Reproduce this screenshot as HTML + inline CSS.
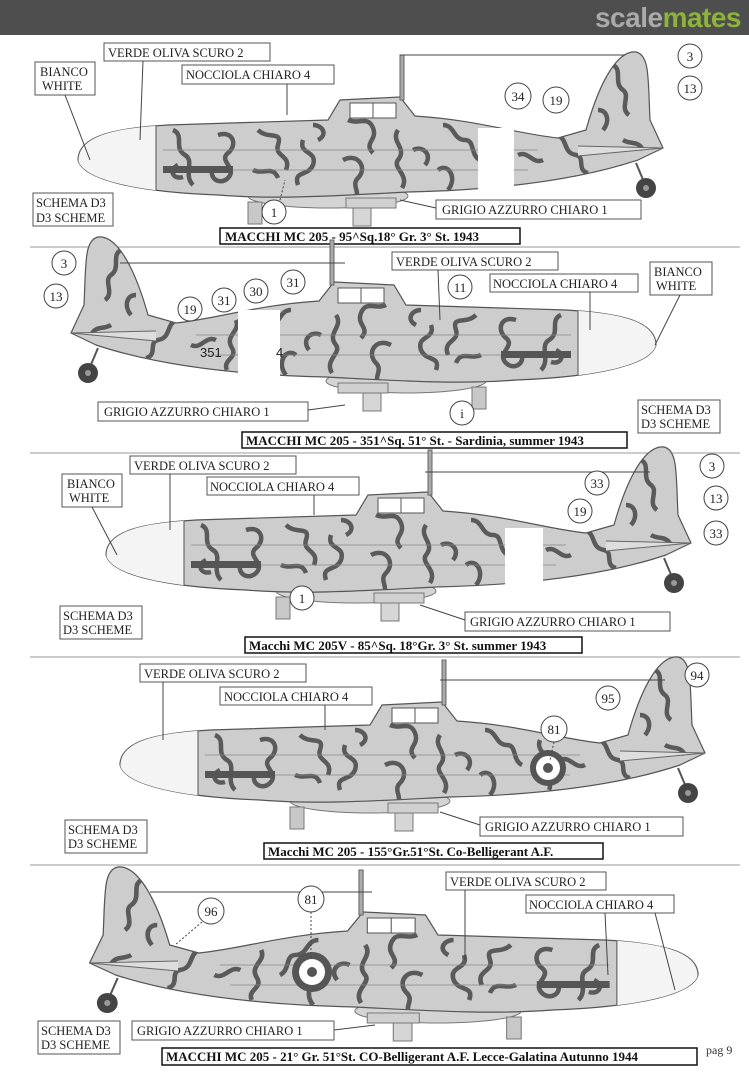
<!DOCTYPE html>
<html><head><meta charset="utf-8"><style>
html,body{margin:0;padding:0;background:#fff}
svg{display:block}
.l{font-family:"Liberation Serif",serif;font-size:12.5px;fill:#222}
.b{fill:#fff;stroke:#555;stroke-width:1}
.c{font-family:"Liberation Serif",serif;font-size:13px;font-weight:bold;fill:#111}
.n{font-family:"Liberation Serif",serif;font-size:13px;fill:#222;text-anchor:middle}
.ln{stroke:#444;stroke-width:1;fill:none}
.dl{stroke:#444;stroke-width:1;fill:none;stroke-dasharray:2 2}
</style></head><body>
<svg width="749" height="1080" viewBox="0 0 749 1080">
<defs>
<path id="fs" d="M0,0 C0,-25 40,-32 90,-35 L250,-40 L262,-60 L322,-63 L337,-44 C400,-40 440,-26 480,-22 L508,-30 C522,-80 540,-110 558,-108 C572,-105 570,-80 572,-40 L585,-12 L560,0 C500,20 420,30 330,32 C270,35 200,40 140,35 C60,32 5,20 0,0 Z"/>
<clipPath id="fc"><use href="#fs"/></clipPath>
<g id="blobs" fill="none" stroke="#5a5a5a" stroke-width="4.5" stroke-linejoin="round">
<path d="M60,-20 c10,-10 20,5 10,15 c-8,8 5,20 -5,28 c-10,5 -18,-10 -8,-18"/>
<path d="M95,-30 c12,5 0,18 12,25 c10,6 -2,20 8,30 M100,5 c-10,5 -5,15 5,12"/>
<path d="M140,-25 c15,-5 20,10 10,18 c-10,8 10,15 0,25 c-8,8 -20,0 -15,-10"/>
<path d="M180,-30 c10,10 25,0 20,15 c-4,12 14,10 8,25 M175,10 c10,5 20,-5 25,8"/>
<path d="M225,-20 c-5,15 15,10 10,25 c-5,12 -20,5 -15,20 M235,-35 c10,0 15,10 5,15"/>
<path d="M270,-40 c10,5 20,-5 25,8 c5,12 -10,15 0,25 M265,0 c15,-8 25,8 15,18 c-8,8 5,15 -5,22"/>
<path d="M320,-30 c-8,12 10,18 0,30 c-6,8 12,15 4,28 M335,-10 c10,-5 20,5 12,15"/>
<path d="M365,-35 c12,0 10,15 22,15 c10,0 5,15 15,20 M360,10 c10,-8 20,8 10,20"/>
<path d="M420,-25 c-5,12 12,15 4,28 c-6,10 10,12 5,22 M440,-5 c10,-5 15,10 25,5"/>
<path d="M480,-25 c10,5 5,18 18,20 c10,2 0,15 12,18"/>
<path d="M535,-95 c10,5 0,18 10,25 c8,6 -4,18 6,25 M520,-50 c10,0 12,12 5,20 M545,-20 c8,5 15,0 20,10"/>
</g>
<g id="pl">
<ellipse cx="250" cy="36" rx="80" ry="12" fill="#d4d4d4" stroke="#777"/>
<rect x="170" y="42" width="14" height="22" fill="#c8c8c8" stroke="#777"/>
<rect x="268" y="38" width="50" height="10" fill="#d0d0d0" stroke="#777"/>
<rect x="275" y="48" width="18" height="18" fill="#d6d6d6" stroke="#777"/>
<use href="#fs" fill="#cdcdcd" stroke="#555" stroke-width="1.2"/>
<g clip-path="url(#fc)"><use href="#blobs"/>
<path d="M0,0 C0,-25 40,-32 78,-35 L78,40 C30,30 0,20 0,0 Z" fill="#f4f4f4" stroke="#555"/></g>
<rect x="272" y="-57" width="46" height="15" fill="#fff" stroke="#555"/>
<line x1="295" y1="-57" x2="295" y2="-42" stroke="#555"/>
<rect x="322" y="-105" width="4" height="45" fill="#aaa" stroke="#666"/>
<path d="M85,10 H450 M85,-10 H460" stroke="#888" stroke-width="0.7"/>
<rect x="85" y="6" width="70" height="7" fill="#555"/>
<path d="M500,-14 L585,-12 L500,-4" fill="#ddd" stroke="#666"/>
<line x1="558" y1="3" x2="566" y2="22" stroke="#555" stroke-width="2"/>
<circle cx="568" cy="28" r="10" fill="#444"/><circle cx="568" cy="28" r="3" fill="#999"/>
</g>
</defs>
<rect width="749" height="35" fill="#4e4e4e"/>
<text x="741" y="27" text-anchor="end" font-family="Liberation Sans,sans-serif" font-weight="bold" font-size="28" letter-spacing="-0.5"><tspan fill="#aaa">scale</tspan><tspan fill="#8db33a">mates</tspan></text>
<g stroke="#999" stroke-width="1"><line x1="30" y1="247" x2="740" y2="247"/><line x1="30" y1="453" x2="740" y2="453"/><line x1="30" y1="657" x2="740" y2="657"/><line x1="30" y1="865" x2="740" y2="865"/></g>

<!-- Plane 1 -->
<use href="#pl" transform="translate(78,160)"/>
<rect x="478" y="128" width="36" height="62" fill="#fff"/>
<line class="ln" x1="400" y1="55" x2="625" y2="55"/>
<rect class="b" x="35" y="62" width="60" height="33"/><text class="l" x="40" y="76">BIANCO</text><text class="l" x="42" y="90">WHITE</text>
<line class="ln" x1="65" y1="95" x2="90" y2="160"/>
<rect class="b" x="104" y="43" width="166" height="18"/><text class="l" x="108" y="57">VERDE OLIVA SCURO 2</text>
<line class="ln" x1="143" y1="61" x2="140" y2="140"/>
<rect class="b" x="182" y="65" width="152" height="19"/><text class="l" x="186" y="79">NOCCIOLA CHIARO 4</text>
<line class="ln" x1="287" y1="84" x2="287" y2="115"/>
<rect class="b" x="33" y="193" width="80" height="33"/><text class="l" x="36" y="207">SCHEMA D3</text><text class="l" x="36" y="222">D3 SCHEME</text>
<circle cx="274" cy="212" r="12" fill="#fff" stroke="#444"/><text class="n" x="274" y="217">1</text><line class="dl" x1="280" y1="200" x2="285" y2="180"/>
<rect class="b" x="436" y="200" width="205" height="19"/><text class="l" x="442" y="214">GRIGIO AZZURRO CHIARO 1</text><line class="ln" x1="436" y1="208" x2="400" y2="200"/>
<rect x="220" y="228" width="300" height="16" fill="#fff" stroke="#111" stroke-width="1.5"/><text class="c" x="225" y="241">MACCHI MC 205 - 95^Sq.18° Gr. 3° St. 1943</text>
<circle cx="690" cy="56" r="12" fill="#fff" stroke="#444"/><text class="n" x="690" y="61">3</text>
<circle cx="690" cy="88" r="12" fill="#fff" stroke="#444"/><text class="n" x="690" y="93">13</text>
<circle cx="518" cy="96" r="13" fill="#fff" stroke="#444"/><text class="n" x="518" y="101">34</text>
<circle cx="556" cy="100" r="13" fill="#fff" stroke="#444"/><text class="n" x="556" y="105">19</text>

<!-- Plane 2 -->
<use href="#pl" transform="translate(656,345) scale(-1,1)"/>
<rect x="238" y="310" width="42" height="68" fill="#fff"/>
<line class="ln" x1="120" y1="263" x2="345" y2="263"/>
<rect class="b" x="392" y="252" width="166" height="18"/><text class="l" x="396" y="266">VERDE OLIVA SCURO 2</text><line class="ln" x1="438" y1="270" x2="440" y2="320"/>
<rect class="b" x="490" y="274" width="148" height="18"/><text class="l" x="493" y="288">NOCCIOLA CHIARO 4</text><line class="ln" x1="590" y1="292" x2="590" y2="330"/>
<rect class="b" x="650" y="262" width="62" height="33"/><text class="l" x="654" y="276">BIANCO</text><text class="l" x="656" y="290">WHITE</text><line class="ln" x1="680" y1="295" x2="655" y2="345"/>
<rect class="b" x="638" y="400" width="82" height="33"/><text class="l" x="641" y="414">SCHEMA D3</text><text class="l" x="641" y="428">D3 SCHEME</text>
<rect class="b" x="98" y="402" width="210" height="19"/><text class="l" x="104" y="416">GRIGIO AZZURRO CHIARO 1</text><line class="ln" x1="308" y1="410" x2="345" y2="405"/>
<rect x="242" y="432" width="385" height="16" fill="#fff" stroke="#111" stroke-width="1.5"/><text class="c" x="246" y="445">MACCHI MC 205 - 351^Sq. 51° St. - Sardinia, summer 1943</text>
<circle cx="64" cy="263" r="12" fill="#fff" stroke="#444"/><text class="n" x="64" y="268">3</text>
<circle cx="56" cy="296" r="12" fill="#fff" stroke="#444"/><text class="n" x="56" y="301">13</text>
<circle cx="190" cy="309" r="12" fill="#fff" stroke="#444"/><text class="n" x="190" y="314">19</text>
<circle cx="224" cy="300" r="12" fill="#fff" stroke="#444"/><text class="n" x="224" y="305">31</text>
<circle cx="256" cy="291" r="12" fill="#fff" stroke="#444"/><text class="n" x="256" y="296">30</text>
<circle cx="293" cy="282" r="12" fill="#fff" stroke="#444"/><text class="n" x="293" y="287">31</text>
<circle cx="460" cy="287" r="12" fill="#fff" stroke="#444"/><text class="n" x="460" y="292">11</text>
<circle cx="462" cy="413" r="12" fill="#fff" stroke="#444"/><text class="n" x="462" y="418">i</text>
<text x="200" y="357" font-family="Liberation Sans,sans-serif" font-size="13" fill="#222">351</text><text x="276" y="357" font-family="Liberation Sans,sans-serif" font-size="13" fill="#222">4</text>

<!-- Plane 3 -->
<use href="#pl" transform="translate(106,555)"/>
<rect x="505" y="528" width="38" height="60" fill="#fff"/>
<line class="ln" x1="425" y1="472" x2="650" y2="472"/>
<rect class="b" x="62" y="474" width="60" height="33"/><text class="l" x="67" y="488">BIANCO</text><text class="l" x="69" y="502">WHITE</text><line class="ln" x1="92" y1="507" x2="117" y2="555"/>
<rect class="b" x="130" y="456" width="166" height="18"/><text class="l" x="134" y="470">VERDE OLIVA SCURO 2</text><line class="ln" x1="170" y1="474" x2="170" y2="530"/>
<rect class="b" x="207" y="477" width="152" height="18"/><text class="l" x="210" y="491">NOCCIOLA CHIARO 4</text><line class="ln" x1="314" y1="495" x2="314" y2="515"/>
<rect class="b" x="60" y="606" width="82" height="33"/><text class="l" x="63" y="620">SCHEMA D3</text><text class="l" x="63" y="634">D3 SCHEME</text>
<circle cx="302" cy="598" r="12" fill="#fff" stroke="#444"/><text class="n" x="302" y="603">1</text>
<rect class="b" x="465" y="612" width="205" height="19"/><text class="l" x="470" y="626">GRIGIO AZZURRO CHIARO 1</text><line class="ln" x1="465" y1="620" x2="420" y2="605"/>
<rect x="245" y="637" width="337" height="16" fill="#fff" stroke="#111" stroke-width="1.5"/><text class="c" x="249" y="650">Macchi MC 205V - 85^Sq. 18°Gr. 3° St. summer 1943</text>
<circle cx="597" cy="483" r="12" fill="#fff" stroke="#444"/><text class="n" x="597" y="488">33</text>
<circle cx="712" cy="466" r="12" fill="#fff" stroke="#444"/><text class="n" x="712" y="471">3</text>
<circle cx="716" cy="498" r="12" fill="#fff" stroke="#444"/><text class="n" x="716" y="503">13</text>
<circle cx="580" cy="511" r="12" fill="#fff" stroke="#444"/><text class="n" x="580" y="516">19</text>
<circle cx="716" cy="533" r="12" fill="#fff" stroke="#444"/><text class="n" x="716" y="538">33</text>

<!-- Plane 4 -->
<use href="#pl" transform="translate(120,765)"/>
<circle cx="548" cy="768" r="18" fill="#555"/><circle cx="548" cy="768" r="12" fill="#fff"/><circle cx="548" cy="768" r="5" fill="#555"/>
<line class="ln" x1="440" y1="680" x2="665" y2="680"/>
<rect class="b" x="140" y="664" width="166" height="18"/><text class="l" x="144" y="678">VERDE OLIVA SCURO 2</text><line class="ln" x1="163" y1="682" x2="163" y2="740"/>
<rect class="b" x="220" y="687" width="152" height="18"/><text class="l" x="224" y="701">NOCCIOLA CHIARO 4</text><line class="ln" x1="325" y1="705" x2="325" y2="730"/>
<rect class="b" x="65" y="820" width="82" height="33"/><text class="l" x="68" y="834">SCHEMA D3</text><text class="l" x="68" y="848">D3 SCHEME</text>
<rect class="b" x="480" y="817" width="203" height="19"/><text class="l" x="485" y="831">GRIGIO AZZURRO CHIARO 1</text><line class="ln" x1="480" y1="825" x2="440" y2="812"/>
<rect x="264" y="843" width="339" height="16" fill="#fff" stroke="#111" stroke-width="1.5"/><text class="c" x="268" y="856">Macchi MC 205 - 155°Gr.51°St. Co-Belligerant A.F.</text>
<circle cx="554" cy="729" r="13" fill="#fff" stroke="#444"/><text class="n" x="554" y="734">81</text><line class="dl" x1="554" y1="742" x2="550" y2="760"/>
<circle cx="608" cy="698" r="12" fill="#fff" stroke="#444"/><text class="n" x="608" y="703">95</text>
<circle cx="697" cy="675" r="12" fill="#fff" stroke="#444"/><text class="n" x="697" y="680">94</text>

<!-- Plane 5 -->
<use href="#pl" transform="translate(698,975) scale(-1.04,1)"/>
<circle cx="312" cy="972" r="20" fill="#555"/><circle cx="312" cy="972" r="13" fill="#fff"/><circle cx="312" cy="972" r="5" fill="#555"/>
<line class="ln" x1="150" y1="892" x2="372" y2="892"/>
<rect class="b" x="446" y="872" width="160" height="18"/><text class="l" x="450" y="886">VERDE OLIVA SCURO 2</text><line class="ln" x1="465" y1="890" x2="465" y2="960"/>
<rect class="b" x="526" y="895" width="148" height="18"/><text class="l" x="529" y="909">NOCCIOLA CHIARO 4</text><line class="ln" x1="605" y1="913" x2="608" y2="975"/><line class="ln" x1="655" y1="913" x2="675" y2="990"/>
<rect class="b" x="38" y="1021" width="82" height="33"/><text class="l" x="41" y="1035">SCHEMA D3</text><text class="l" x="41" y="1049">D3 SCHEME</text>
<rect class="b" x="132" y="1021" width="202" height="19"/><text class="l" x="137" y="1035">GRIGIO AZZURRO CHIARO 1</text><line class="ln" x1="334" y1="1030" x2="375" y2="1025"/>
<rect x="162" y="1048" width="535" height="17" fill="#fff" stroke="#111" stroke-width="1.5"/><text class="c" x="166" y="1061">MACCHI MC 205 - 21° Gr. 51°St. CO-Belligerant A.F. Lecce-Galatina Autunno 1944</text>
<text x="706" y="1054" font-family="Liberation Serif,serif" font-size="12" fill="#333">pag 9</text>
<circle cx="211" cy="911" r="13" fill="#fff" stroke="#444"/><text class="n" x="211" y="916">96</text><line class="dl" x1="202" y1="922" x2="175" y2="945"/>
<circle cx="311" cy="899" r="13" fill="#fff" stroke="#444"/><text class="n" x="311" y="904">81</text><line class="dl" x1="311" y1="912" x2="311" y2="960"/>
</svg>
</body></html>
